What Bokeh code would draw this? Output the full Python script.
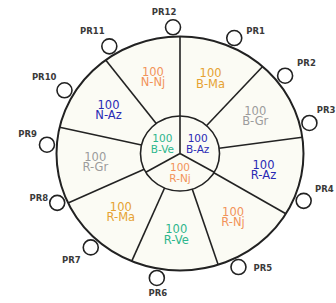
import math
from bokeh.plotting import figure
from bokeh.models import ColumnDataSource, Range1d
from bokeh.embed import file_html
from bokeh.resources import INLINE
from bokeh.core.properties import value

# ---------------- data ----------------
# outer ring: divider angles (degrees, clockwise from top) and sector contents
outer_dividers = [0, 42, 82, 121, 162, 203, 245, 283, 323]
outer_labels = ["B-Ma", "B-Gr", "R-Az", "R-Nj", "R-Ve", "R-Ma", "R-Gr", "N-Az", "N-Nj"]
outer_values = [100, 100, 100, 100, 100, 100, 100, 100, 100]

# inner circle
inner_dividers = [0, 120, 240]
inner_labels = ["B-Az", "R-Nj", "B-Ve"]
inner_values = [100, 100, 100]

# lamps around the ring
pr_names = ["PR1", "PR2", "PR3", "PR4", "PR5", "PR6",
            "PR7", "PR8", "PR9", "PR10", "PR11", "PR12"]
pr_angles = [24, 52, 76, 112, 154, 190, 222, 247, 274, 300, 328, 357]

# ---------------- styles ----------------
W, H = 336, 303
CX, CY, RX, RY = 179.5, 153.0, 123.5, 117.0   # ring placement in pixels
R_IN = 0.32
R_PR = 1.08
R_LAB_OUT = 0.69
R_LAB_IN = 0.165
LINE = "#222222"
FILL = "#fbfbf4"
FONT = "DejaVu Sans"
code_colors = {"Nj": "#f2935a", "Ma": "#e6a232", "Gr": "#9c9c9c",
               "Az": "#2a2ab4", "Ve": "#2db68c"}
# label placement for each lamp: (align, dx px, dy px)
pr_place = [("left", 12, -7), ("left", 12, -13),
            ("right", 26, -13), ("right", 30, -12),
            ("left", 15, 1), ("center", 1, 15),
            ("right", -10, 13), ("right", -9, -5),
            ("right", -10, -11), ("right", -8, -13),
            ("center", -17, -15), ("center", -9, -15)]


def pol(r, deg):
    a = math.radians(deg)
    return r * math.sin(a), r * math.cos(a)


p = figure(width=W, height=H, output_backend="svg", toolbar_location=None,
           x_range=Range1d(-CX / RX, (W - CX) / RX),
           y_range=Range1d(-(H - CY) / RY, CY / RY),
           min_border=0)
p.axis.visible = False
p.grid.visible = False
p.outline_line_color = None
p.background_fill_color = "white"
p.border_fill_color = "white"

# rings
p.ellipse(x=[0], y=[0], width=[2], height=[2], fill_color=FILL,
          line_color=LINE, line_width=2)
p.ellipse(x=[0], y=[0], width=[2 * R_IN], height=[2 * R_IN], fill_color=FILL,
          line_color=LINE, line_width=1.6)

# dividers
x0, y0, x1, y1 = [], [], [], []
for a in outer_dividers:
    sx, sy = pol(R_IN, a)
    ex, ey = pol(1.0, a)
    x0.append(sx); y0.append(sy); x1.append(ex); y1.append(ey)
for a in inner_dividers:
    ex, ey = pol(R_IN, a)
    x0.append(0); y0.append(0); x1.append(ex); y1.append(ey)
p.segment(x0=x0, y0=y0, x1=x1, y1=y1, line_color=LINE, line_width=1.6)


# sector labels
def sector_text(dividers, labels, values, r, size, off):
    xs, ys, cols = [], [], []
    n = len(dividers)
    for i in range(n):
        a0 = dividers[i]
        a1 = dividers[i + 1] if i + 1 < n else dividers[0] + 360
        mid = (a0 + a1) / 2.0
        x, y = pol(r, mid)
        xs.append(x); ys.append(y)
        cols.append(code_colors[labels[i].split("-")[1]])
    src = ColumnDataSource(dict(x=xs, y=ys, v=[str(v) for v in values],
                                t=labels, c=cols))
    p.text(x="x", y="y", text="v", source=src, text_color="c",
           text_font=value(FONT), text_font_size=size, text_align="center",
           text_baseline="middle", y_offset=-off)
    p.text(x="x", y="y", text="t", source=src, text_color="c",
           text_font=value(FONT), text_font_size=size, text_align="center",
           text_baseline="middle", y_offset=off)


sector_text(outer_dividers, outer_labels, outer_values, R_LAB_OUT, "11.5px", 5.5)
sector_text(inner_dividers, inner_labels, inner_values, R_LAB_IN, "10.5px", 5.5)

# lamps
px, py = [], []
for a in pr_angles:
    x, y = pol(R_PR, a)
    px.append(x); py.append(y)
p.scatter(x=px, y=py, marker="circle", size=15, fill_color="white",
          line_color=LINE, line_width=1.6)

for i, name in enumerate(pr_names):
    al, dx, dy = pr_place[i]
    p.text(x=[px[i]], y=[py[i]], text=[name], text_font=value(FONT),
           text_font_size="8.5px", text_color="#3a3a3a", text_align=al,
           text_baseline="middle", x_offset=dx, y_offset=dy,
           text_font_style="bold")

open("out.html", "w").write(file_html(p, INLINE))
